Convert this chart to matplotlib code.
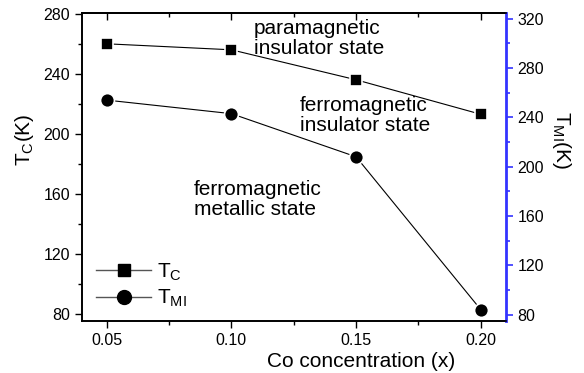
import matplotlib
matplotlib.use("Agg")
from matplotlib import pyplot as plt
from matplotlib.lines import Line2D
from matplotlib.ticker import MultipleLocator

plt.rcParams['font.family'] = ['Liberation Sans', 'DejaVu Sans']
plt.rcParams['mathtext.fontset'] = 'custom'
plt.rcParams['mathtext.rm'] = 'Liberation Sans'
plt.rcParams['mathtext.it'] = 'Liberation Sans'

# data
co_x = [0.05, 0.10, 0.15, 0.20]
t_c = [260, 256, 236, 213]      # left axis
t_mi = [254, 243, 208, 84]      # right axis

fig = plt.figure(figsize=(5.84, 3.73), dpi=100)
ax = fig.add_axes([0.14, 0.14, 0.726, 0.825])
ax2 = ax.twinx()

ax.plot(co_x, t_c, color='black', lw=0.8, marker='s', ms=9,
        mfc='black', mec='white', mew=1.2)
ax2.plot(co_x, t_mi, color='black', lw=0.8, marker='o', ms=10,
         mfc='black', mec='white', mew=1.2)

ax.set_xlim(0.04, 0.21)
ax.set_ylim(75.3, 280.5)
ax2.set_ylim(75, 324.6)

ax.xaxis.set_minor_locator(MultipleLocator(0.025))
ax.yaxis.set_major_locator(MultipleLocator(40))
ax.yaxis.set_minor_locator(MultipleLocator(20))
ax2.yaxis.set_major_locator(MultipleLocator(40))
ax2.yaxis.set_minor_locator(MultipleLocator(20))
ax.set_xticks(co_x)
ax.set_xticklabels(["%.2f" % v for v in co_x])

ax.tick_params(axis='x', which='both', direction='out', top=False, labelsize=11.5, pad=4)
ax.tick_params(axis='x', which='major', length=5, width=1)
ax.tick_params(axis='x', which='minor', length=3, width=1)
ax.tick_params(axis='y', which='major', direction='out', length=5, width=1, labelsize=11.5)
ax.tick_params(axis='y', which='minor', direction='out', length=3, width=1)
ax2.tick_params(axis='y', which='major', direction='out', length=5, width=1.2,
                color='#3333ff', labelsize=11.5, labelcolor='black')
ax2.tick_params(axis='y', which='minor', direction='out', length=3, width=1.2, color='#3333ff')

# mirrored inward ticks on top
top = ax.secondary_xaxis('top')
top.set_xticks(co_x)
top.xaxis.set_minor_locator(MultipleLocator(0.025))
top.tick_params(axis='x', which='major', direction='in', length=5, width=1, labeltop=False)
top.tick_params(axis='x', which='minor', direction='in', length=3, width=1)
top.spines['top'].set_linewidth(1.2)

for s in ['left', 'bottom', 'top']:
    ax.spines[s].set_linewidth(1.2)
    ax2.spines[s].set_linewidth(1.2)
ax2.spines['right'].set_color('#3333ff')
ax2.spines['right'].set_linewidth(2)
ax.spines['right'].set_visible(False)

ax.set_xlabel("Co concentration (x)", fontsize=15)
ax.xaxis.set_label_coords(0.66, -0.10)
ax.set_ylabel("$\\mathrm{T_C}$(K)", fontsize=15)
ax.yaxis.set_label_coords(-0.109, 0.587)
ax2.set_ylabel("$\\mathrm{T_{MI}}$(K)", fontsize=15, rotation=-90, va='center')
ax2.yaxis.set_label_coords(1.131, 0.587)

txt = dict(fontsize=15, transform=ax.transAxes, va='baseline', linespacing=1.05)
ax.text(0.4064, 0.8668, "paramagnetic\ninsulator state", **txt)
ax.text(0.5146, 0.6165, "ferromagnetic\ninsulator state", **txt)
ax.text(0.2649, 0.3435, "ferromagnetic\nmetallic state", **txt)

handles = [
    Line2D([], [], color='#555555', lw=1, marker='s', ms=9, mfc='black', mec='black'),
    Line2D([], [], color='#555555', lw=1, marker='o', ms=10, mfc='black', mec='black'),
]
ax.legend(handles, ["$\\mathrm{T_C}$", "$\\mathrm{T_{MI}}$"], loc='center left',
          bbox_to_anchor=(0.0337, 0.1144), frameon=False, fontsize=15,
          borderaxespad=0, borderpad=0,
          handlelength=2.64, handletextpad=0.3, labelspacing=0.25)

fig.savefig("out.png", dpi=100)
